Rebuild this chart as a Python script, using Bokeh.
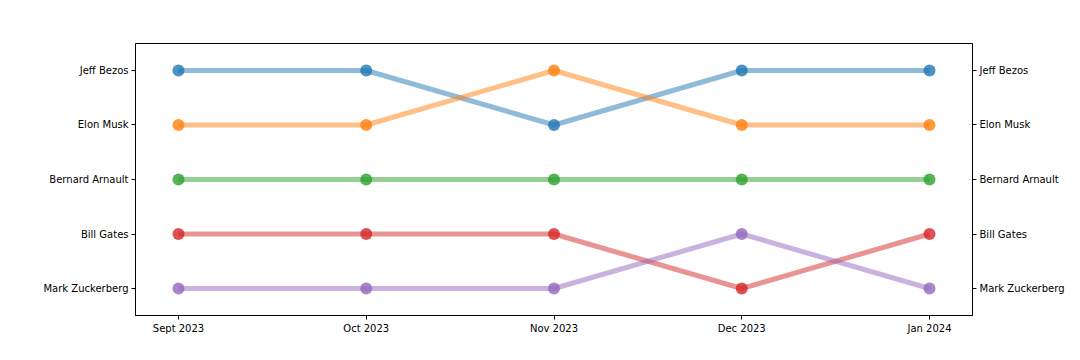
from bokeh.plotting import figure
from bokeh.models import Range1d, LinearAxis, FixedTicker
from bokeh.embed import file_html
from bokeh.resources import INLINE

months = ["Sept 2023", "Oct 2023", "Nov 2023", "Dec 2023", "Jan 2024"]
names = ["Jeff Bezos", "Elon Musk", "Bernard Arnault", "Bill Gates", "Mark Zuckerberg"]
rank_bezos = [1, 1, 2, 1, 1]
rank_musk = [2, 2, 1, 2, 2]
rank_arnault = [3, 3, 3, 3, 3]
rank_gates = [4, 4, 4, 5, 4]
rank_zuckerberg = [5, 5, 5, 4, 5]
left_labels = ["Jeff Bezos", "Elon Musk", "Bernard Arnault", "Bill Gates", "Mark Zuckerberg"]
right_labels = ["Jeff Bezos", "Elon Musk", "Bernard Arnault", "Bill Gates", "Mark Zuckerberg"]
colors = ["#1f77b4", "#ff7f0e", "#2ca02c", "#d62728", "#9467bd"]

series = [rank_bezos, rank_musk, rank_arnault, rank_gates, rank_zuckerberg]
xs = list(range(len(months)))

p = figure(width=1072, height=352, output_backend="svg", toolbar_location=None,
           x_range=Range1d(-0.229, len(months) - 1 + 0.229),
           y_range=Range1d(5.495, 0.505),
           min_border_left=135, min_border_right=100, min_border_top=43, min_border_bottom=37)
p.xgrid.visible = False
p.ygrid.visible = False
p.outline_line_color = "black"
p.outline_line_alpha = 1
p.outline_line_width = 1

for r, c in zip(series, colors):
    p.line(xs, r, line_color=c, line_width=5, line_alpha=0.5)
    p.scatter(xs, r, size=12, fill_color=c, line_color=c, fill_alpha=0.8, line_alpha=0.0)

font = "DejaVu Sans"

def style(ax):
    ax.major_label_text_font = font
    ax.major_label_text_font_size = "10px"
    ax.major_label_text_color = "black"
    ax.axis_line_color = "black"
    ax.major_tick_line_color = "black"
    ax.major_tick_out = 4
    ax.major_tick_in = 0
    ax.minor_tick_line_color = None
    ax.major_label_standoff = 3

xa = p.xaxis[0]
xa.ticker = FixedTicker(ticks=xs)
xa.major_label_overrides = {i: m for i, m in enumerate(months)}
style(xa)

ya = p.yaxis[0]
ya.ticker = FixedTicker(ticks=[1, 2, 3, 4, 5])
ya.major_label_overrides = {i + 1: n for i, n in enumerate(left_labels)}
style(ya)

ra = LinearAxis(ticker=FixedTicker(ticks=[1, 2, 3, 4, 5]))
ra.major_label_overrides = {i + 1: n for i, n in enumerate(right_labels)}
style(ra)
p.add_layout(ra, "right")

open("out.html", "w").write(file_html(p, INLINE))
